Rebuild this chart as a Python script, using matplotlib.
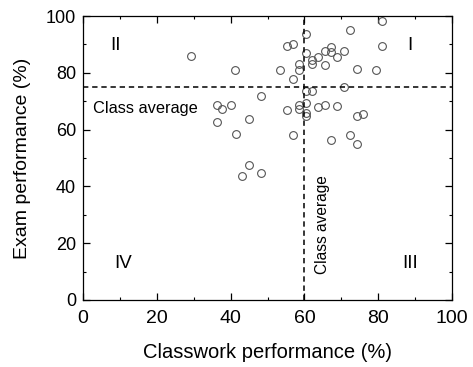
import matplotlib
matplotlib.use('Agg')
import matplotlib.pyplot as plt
from matplotlib.ticker import MultipleLocator

plt.rcParams['font.family'] = ['Liberation Sans', 'DejaVu Sans']

# classwork (%) and exam (%) scores
classwork = [29.3, 41.3, 53.4, 48.2, 36.2, 37.8, 40.0, 36.2, 44.9, 41.4,
             44.9, 43.1, 48.2, 81.0, 72.4, 60.3, 55.2, 56.9, 81.0, 60.3,
             65.5, 67.2, 67.2, 70.7, 68.9, 63.8, 62.1, 62.1, 65.5, 58.6,
             58.6, 74.2, 79.3, 56.9, 60.3, 62.1, 70.7, 55.2, 58.6, 60.3,
             58.6, 60.3, 60.3, 63.8, 65.5, 68.9, 74.2, 75.9, 56.9, 67.2,
             72.4, 74.2]
exam = [86.0, 80.9, 81.1, 71.9, 68.5, 67.1, 68.5, 62.7, 63.7, 58.6,
        47.4, 43.8, 44.6, 98.1, 95.1, 93.5, 89.4, 90.1, 89.5, 87.1,
        87.8, 89.2, 87.3, 87.8, 85.7, 85.6, 84.5, 83.1, 82.6, 83.0,
        80.9, 81.3, 81.0, 77.8, 73.6, 73.6, 75.1, 66.8, 68.5, 69.5,
        67.1, 65.7, 64.9, 68.1, 68.7, 68.2, 64.8, 65.4, 58.0, 56.4,
        58.0, 54.9]
class_avg_x = 60
class_avg_y = 75
quadrants = ['I', 'II', 'III', 'IV']

fig = plt.figure(figsize=(4.73, 3.67), dpi=100)
ax = fig.add_axes([0.1755, 0.1826, 0.7801, 0.7738])

ax.plot(classwork, exam, 'o', ms=5.6, mfc='none', mec='#555555', mew=0.8,
        clip_on=False)
ax.axhline(class_avg_y, color='k', ls=(0, (3.5, 2.5)), lw=1.1)
ax.axvline(class_avg_x, color='k', ls=(0, (3.5, 2.5)), lw=1.1)

ax.text(2.7, 67.6, 'Class average', fontsize=11.8, va='center', ha='left')
ax.text(65.0, 26.6, 'Class average', fontsize=11.2, rotation=90,
        va='center', ha='center')

ax.text(88.6, 89.5, quadrants[0], fontsize=13.5, ha='center', va='center')
ax.text(8.9, 89.5, quadrants[1], fontsize=13.5, ha='center', va='center')
ax.text(88.6, 13, quadrants[2], fontsize=13.5, ha='center', va='center')
ax.text(10.8, 13, quadrants[3], fontsize=13.5, ha='center', va='center')

ax.set_xlim(0, 100)
ax.set_ylim(0, 100)
ax.xaxis.set_major_locator(MultipleLocator(20))
ax.yaxis.set_major_locator(MultipleLocator(20))
ax.xaxis.set_minor_locator(MultipleLocator(10))
ax.yaxis.set_minor_locator(MultipleLocator(10))
ax.tick_params(which='both', direction='in', top=True, right=True)
ax.tick_params(axis='x', labelsize=14, pad=7)
ax.tick_params(axis='y', labelsize=13, pad=5)
ax.tick_params(which='major', length=5, width=0.9)
ax.tick_params(which='minor', length=2.5, width=0.8)
for s in ax.spines.values():
    s.set_linewidth(0.9)

ax.set_xlabel('Classwork performance (%)', fontsize=14.5, labelpad=12)
ax.set_ylabel('Exam performance (%)', fontsize=14, labelpad=11)

fig.savefig('out.png', dpi=100)
